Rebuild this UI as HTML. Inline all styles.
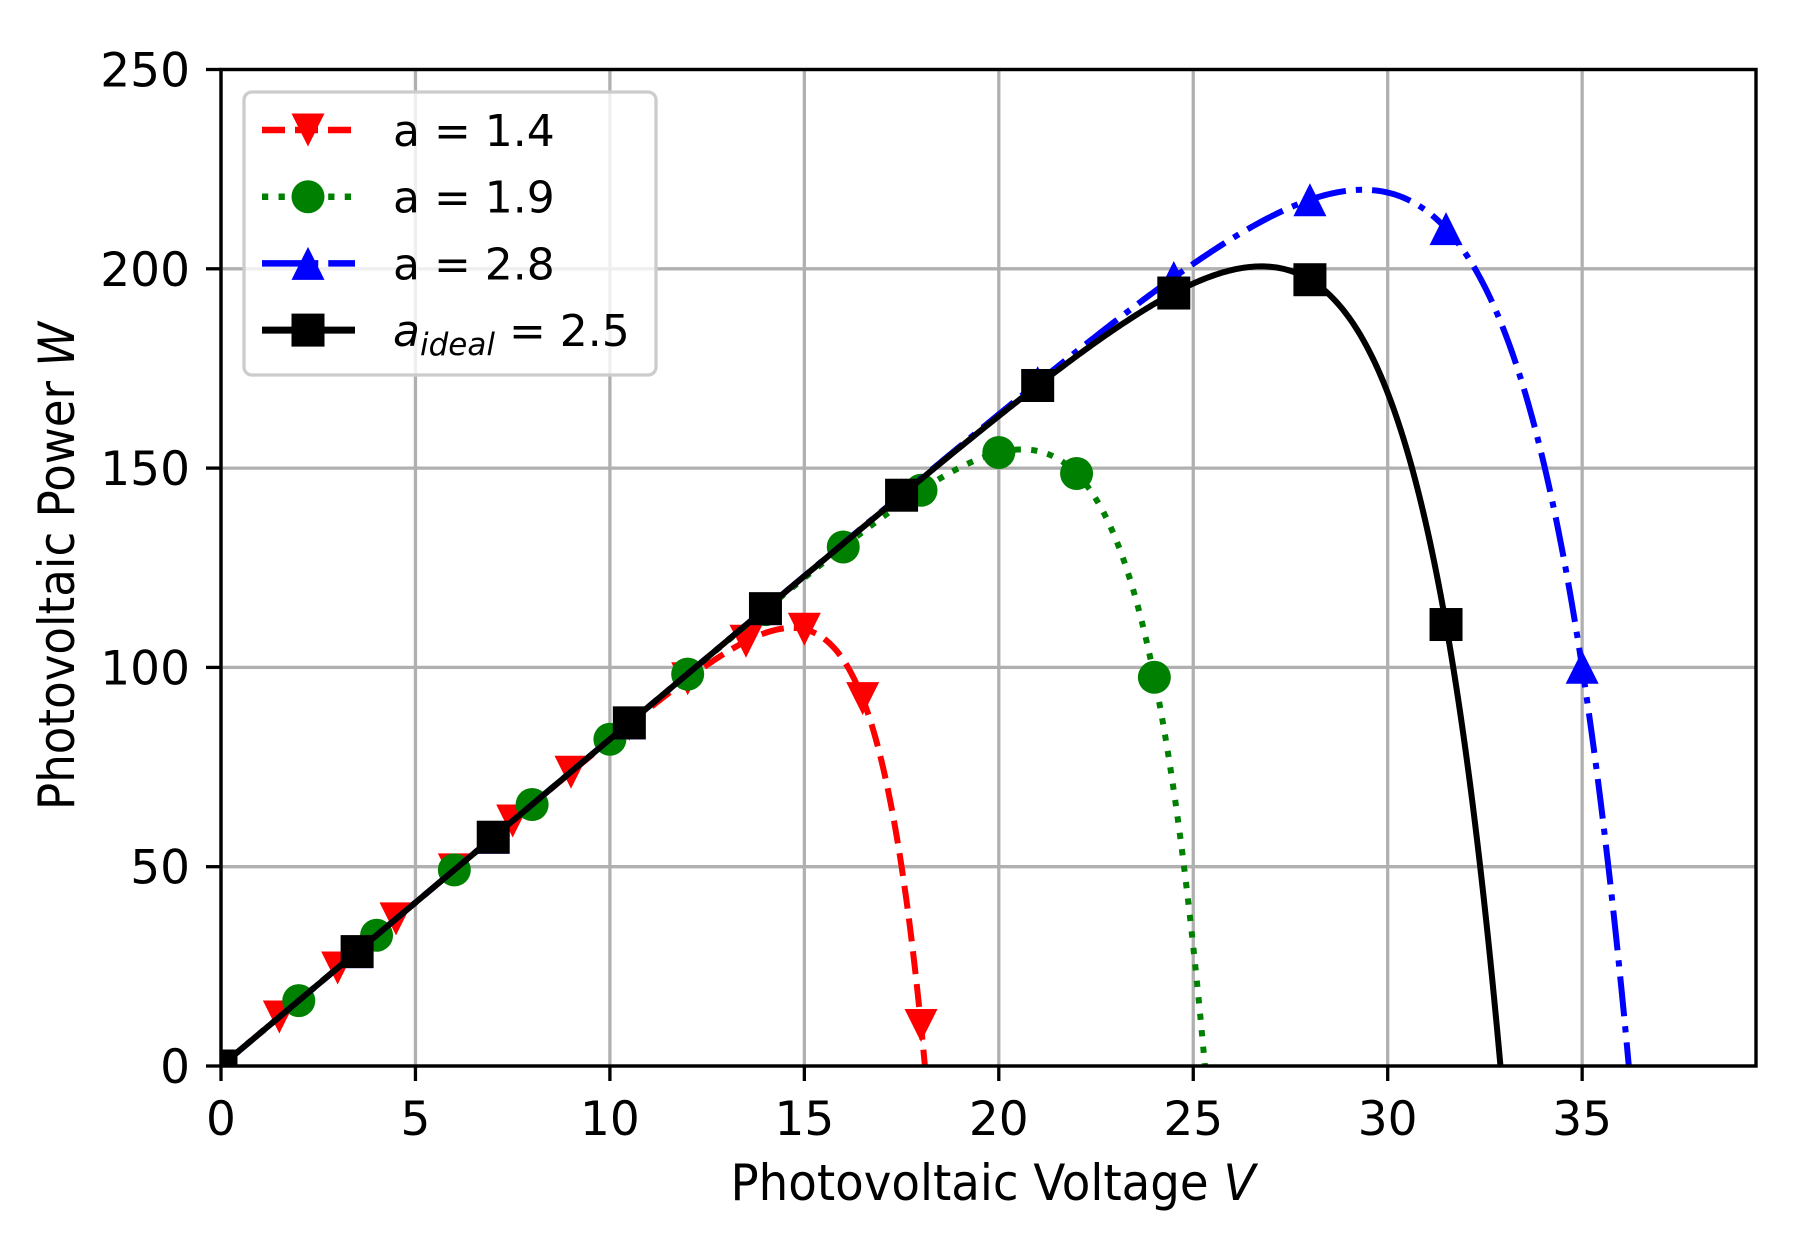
<!DOCTYPE html>
<html><head><meta charset="utf-8"><style>
html,body{margin:0;padding:0;background:#fff}
svg{display:block}
text{font-family:"DejaVu Sans","Liberation Sans",sans-serif;fill:#000}
</style></head><body>
<svg id="s" width="1810" height="1243" xmlns="http://www.w3.org/2000/svg">
<defs><clipPath id="cp"><rect x="221" y="69.5" width="1535" height="996.5"/></clipPath></defs>
<rect width="1810" height="1243" fill="#fff"/>
<g id="grid" stroke="#b0b0b0" stroke-width="3.3"></g>
<g id="ticks"></g>
<g id="series" clip-path="url(#cp)"></g>
<rect x="221" y="69.5" width="1535" height="996.5" fill="none" stroke="#000" stroke-width="3.4"/>
<g id="legend">
<rect x="244" y="92" width="412" height="283" rx="8" fill="#fff" fill-opacity="0.8" stroke="#cccccc" stroke-width="3.3"/>
</g>
<text x="993" y="1200" font-size="50" text-anchor="middle" textLength="525" lengthAdjust="spacingAndGlyphs">Photovoltaic Voltage <tspan font-style="italic">V</tspan></text>
<text transform="translate(74,566) rotate(-90)" font-size="50" text-anchor="middle" textLength="488" lengthAdjust="spacingAndGlyphs">Photovoltaic Power <tspan font-style="italic">W</tspan></text>
</svg>
<script>
var NS="http://www.w3.org/2000/svg";
function el(t,a,p){var e=document.createElementNS(NS,t);for(var k in a)e.setAttribute(k,a[k]);(p||document.getElementById('s')).appendChild(e);return e;}
var X0=221,SX=38.89,Y0=1066,SY=3.986;
function px(v){return X0+v*SX}function py(w){return Y0-w*SY}
var grid=document.getElementById('grid'),ticks=document.getElementById('ticks'),ser=document.getElementById('series'),leg=document.getElementById('legend');
for(var v=0;v<=35;v+=5){var x=px(v);el('line',{x1:x,y1:69.5,x2:x,y2:1066},grid);el('line',{x1:x,y1:1066,x2:x,y2:1081,stroke:'#000','stroke-width':3.3},ticks);
var t=el('text',{x:x,y:1135,'font-size':47,'text-anchor':'middle'},ticks);t.textContent=v;}
for(var w=0;w<=250;w+=50){var y=py(w);el('line',{x1:221,y1:y,x2:1756,y2:y},grid);el('line',{x1:206,y1:y,x2:221,y2:y,stroke:'#000','stroke-width':3.3},ticks);
var t=el('text',{x:190,y:y+17,'font-size':47,'text-anchor':'end'},ticks);t.textContent=w;}
var S=[
 {a:1.4,voc:18.1,c:'#ff0000',dash:'23,10',m:'v',step:1.5},
 {a:1.9,voc:25.3,c:'#008000',dash:'6.25,10.3',m:'o',step:2},
 {a:2.8,voc:36.2,c:'#0000ff',dash:'40,10,6.25,10',m:'^',step:3.5},
 {a:2.5,voc:32.9,c:'#000000',dash:'',m:'s',step:3.5}];
function P(s,V){return V*8.2*(1-Math.exp((V-s.voc)/s.a));}
function marker(m,x,y,c,g){var r=16.5;
 if(m=='o')el('circle',{cx:x,cy:y,r:r,fill:c},g);
 else if(m=='s')el('rect',{x:x-r,y:y-r,width:2*r,height:2*r,fill:c},g);
 else if(m=='v')el('polygon',{points:(x-r)+','+(y-r)+' '+(x+r)+','+(y-r)+' '+x+','+(y+r),fill:c},g);
 else el('polygon',{points:(x-r)+','+(y+r)+' '+(x+r)+','+(y+r)+' '+x+','+(y-r),fill:c},g);}
S.forEach(function(s){var d='';var N=600;for(var i=0;i<=N;i++){var V=s.voc*i/N;var w=Math.max(0,P(s,V));d+=(i?'L':'M')+px(V).toFixed(2)+','+py(w).toFixed(2);}
 var a={d:d,fill:'none',stroke:s.c,'stroke-width':6};if(s.dash)a['stroke-dasharray']=s.dash;el('path',a,ser);
 for(var V=0;V<s.voc;V+=s.step){marker(s.m,px(V),py(Math.max(0,P(s,V))),s.c,ser);}
});
var labels=['a = 1.4','a = 1.9','a = 2.8'];
S.forEach(function(s,i){var y=130+i*66.7;var a={x1:262,y1:y,x2:355,y2:y,stroke:s.c,'stroke-width':s.m=='s'?7:6.5};if(s.dash)a['stroke-dasharray']=s.dash;el('line',a,leg);
 marker(s.m,308,y,s.c,leg);
 if(i<3){var t=el('text',{x:393,y:y+16,'font-size':44},leg);t.textContent=labels[i];}
 else{var t=el('text',{x:393,y:y+16,'font-size':44},leg);t.innerHTML='<tspan font-style="italic">a</tspan><tspan font-style="italic" font-size="31" dy="9">ideal</tspan><tspan dy="-9"> = 2.5</tspan>';}
});
</script>
</body></html>
